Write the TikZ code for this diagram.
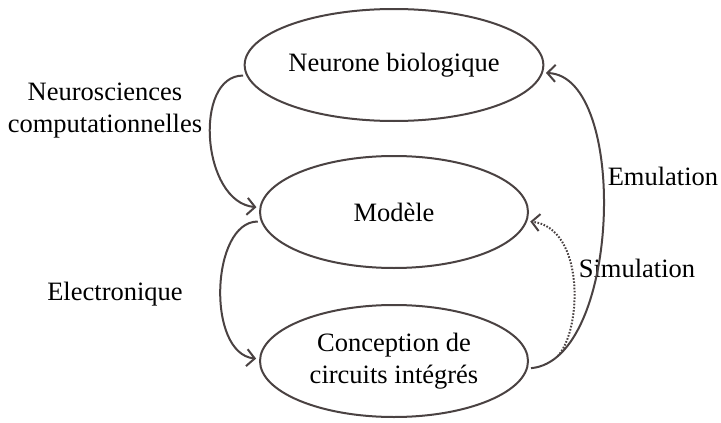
\documentclass[tikz,border=0pt]{standalone}
\usepackage{fontspec}
\setmainfont{Liberation Serif}
\usetikzlibrary{shapes.geometric,arrows.meta}
\definecolor{lc}{HTML}{4A4242}
\begin{document}
\begin{tikzpicture}[x=1pt,y=-1pt,
  font=\fontsize{26.5}{32}\selectfont,
  box/.style={ellipse,draw=lc,line width=2pt,minimum width=268pt,minimum height=112pt,inner sep=0pt,align=center,outer sep=4pt},
  lbl/.style={anchor=base,align=center},
  conn/.style={draw=lc,line width=2pt,-{Straight Barb[length=8pt,width=17pt]}},
  conndot/.style={conn,dash pattern=on 1.6pt off 1.6pt}]
\useasboundingbox (0,0) rectangle (721,423);
\node[box] (nb) at (394,65) {Neurone biologique};
\node[box] (mo) at (394,212) {Modèle};
\node[box] (ci) at (394,361) {Conception de\\circuits intégrés};
\node[lbl] (l1) at (105,132) {Neurosciences\\computationnelles};
\node[lbl] (l2) at (115,300) {Electronique};
\node[lbl] (l3) at (663,185) {Emulation};
\node[lbl] (l4) at (637,277) {Simulation};
\draw[conn] (nb.184) .. controls +(-50,0) and +(-55,-5) .. (mo.178);
\draw[conn] (mo.184) .. controls +(-47,0) and +(-50,-5) .. (ci.179);
\draw[conn] (ci.-3) .. controls +(90,-8) and +(83,3) .. coordinate[pos=0.11] (ss) (nb.-3);
\draw[conndot] (ss) .. controls +(25,-28) and +(54,6) .. (mo.-4);
\end{tikzpicture}
\end{document}
